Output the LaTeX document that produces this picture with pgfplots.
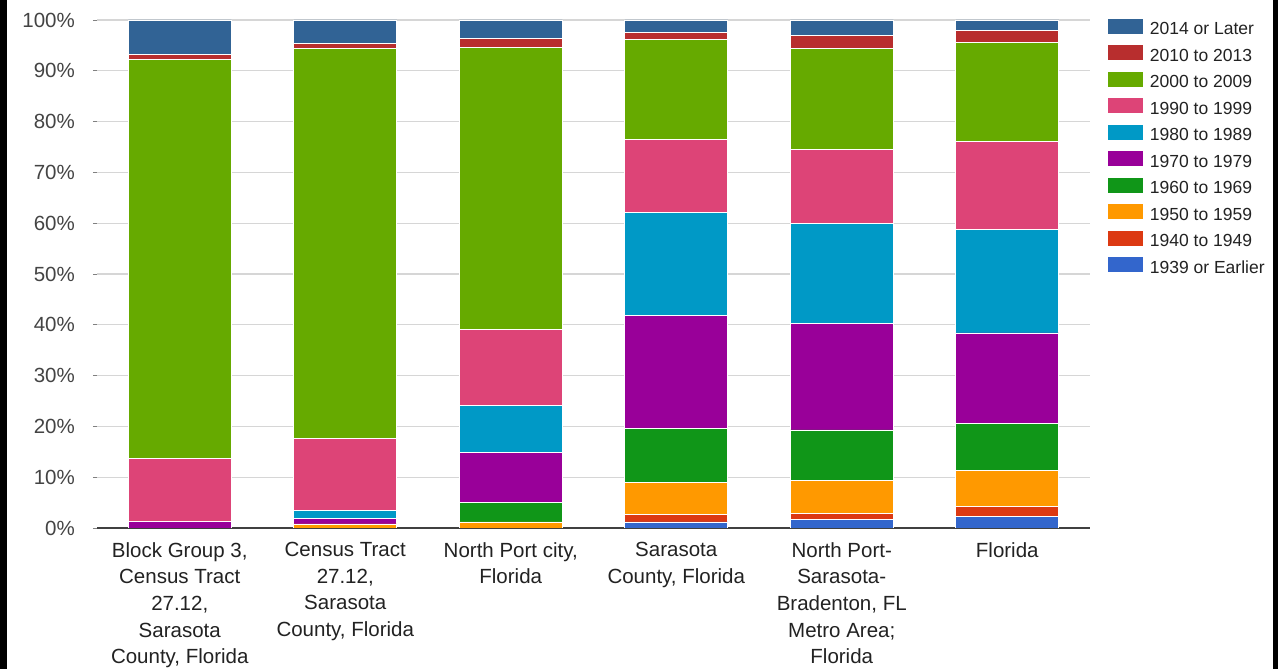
\documentclass[border=0pt]{standalone}
\usepackage{pgfplots}
\pgfplotsset{compat=1.18}
\usepackage{fontspec}
\setmainfont{Liberation Sans}
\definecolor{cA}{HTML}{3366CC}
\definecolor{cB}{HTML}{DC3912}
\definecolor{cC}{HTML}{FF9900}
\definecolor{cD}{HTML}{109618}
\definecolor{cE}{HTML}{990099}
\definecolor{cF}{HTML}{0099C6}
\definecolor{cG}{HTML}{DD4477}
\definecolor{cH}{HTML}{66AA00}
\definecolor{cI}{HTML}{B82E2E}
\definecolor{cJ}{HTML}{316395}
\definecolor{ticktext}{HTML}{444444}
\definecolor{labtext}{HTML}{222222}
\definecolor{gridc}{HTML}{D6D6D6}
\begin{document}
\begin{tikzpicture}
\useasboundingbox (0pt,0pt) rectangle (1278pt,669pt);
\fill[white] (0pt,0pt) rectangle (1278pt,669pt);
\fill[black] (0pt,0pt) rectangle (7pt,669pt);
\fill[black] (1273pt,0pt) rectangle (1278pt,669pt);
\begin{axis}[
  at={(97pt,141pt)}, anchor=south west,
  scale only axis, width=993pt, height=508pt,
  ybar stacked, bar width=103pt,
  xmin=-0.5, xmax=5.5, ymin=0, ymax=100,
  xtick={0,1,2,3,4,5},
  xticklabels={{Block Group 3,\\Census Tract\\27.12,\\Sarasota\\County, Florida},
               {Census Tract\\27.12,\\Sarasota\\County, Florida},
               {North Port city,\\Florida},
               {Sarasota\\County, Florida},
               {North Port-\\Sarasota-\\Bradenton, FL\\Metro Area;\\Florida},
               {Florida}},
  xticklabel style={align=center, anchor=north, inner sep=0pt, text=labtext,
     font=\fontsize{20.5}{26.7}\selectfont, yshift=-10pt},
  xtick style={draw=none},
  ytick={0,10,...,100},
  yticklabels={0\%,10\%,20\%,30\%,40\%,50\%,60\%,70\%,80\%,90\%,100\%},
  yticklabel style={anchor=east, inner sep=0pt, text=ticktext,
     font=\fontsize{20.5}{24}\selectfont, xshift=-18pt},
  ytick style={draw=gray, line width=0.8pt},
  major tick length=4pt, tick align=outside,
  axis x line*=bottom, axis y line*=left,
  y axis line style={draw=none},
  x axis line style={draw=black!75, line width=1.6pt},
  ymajorgrids, grid style={draw=gridc, line width=1.3pt},
  every axis plot/.append style={draw=white, line width=0.8pt},
  reverse legend,
  legend image code/.code={\fill[#1,draw=none] (0pt,-3.7pt) rectangle (35pt,11.3pt);},
  legend cell align=left,
  legend style={at={(1.018,1)}, anchor=north west, yshift=1pt, draw=none, fill=none,
     inner sep=0pt, outer sep=0pt, row sep=6.7pt, column sep=7pt,
     font=\fontsize{17.5}{20}\selectfont, text=labtext,
     nodes={inner sep=0pt, text height=13pt, text depth=4pt}},
]
\addplot[fill=cA] coordinates {(0,0) (1,0) (2,0) (3,1.2) (4,1.6) (5,2.3)};
\addplot[fill=cB] coordinates {(0,0) (1,0) (2,0) (3,1.4) (4,1.3) (5,2.0)};
\addplot[fill=cC] coordinates {(0,0) (1,0.8) (2,1.2) (3,6.4) (4,6.5) (5,7.1)};
\addplot[fill=cD] coordinates {(0,0) (1,0) (2,3.9) (3,10.6) (4,9.9) (5,9.2)};
\addplot[fill=cE] coordinates {(0,1.3) (1,1.1) (2,9.7) (3,22.2) (4,20.9) (5,17.8)};
\addplot[fill=cF] coordinates {(0,0) (1,1.6) (2,9.4) (3,20.4) (4,19.7) (5,20.4)};
\addplot[fill=cG] coordinates {(0,12.4) (1,14.2) (2,14.9) (3,14.3) (4,14.7) (5,17.3)};
\addplot[fill=cH] coordinates {(0,78.5) (1,76.7) (2,55.5) (3,19.6) (4,19.8) (5,19.4)};
\addplot[fill=cI] coordinates {(0,1.1) (1,1.0) (2,1.7) (3,1.5) (4,2.6) (5,2.5)};
\addplot[fill=cJ] coordinates {(0,6.7) (1,4.6) (2,3.7) (3,2.4) (4,3.0) (5,2.0)};
\legend{1939 or Earlier,1940 to 1949,1950 to 1959,1960 to 1969,1970 to 1979,1980 to 1989,1990 to 1999,2000 to 2009,2010 to 2013,2014 or Later}
\end{axis}
\end{tikzpicture}
\end{document}
